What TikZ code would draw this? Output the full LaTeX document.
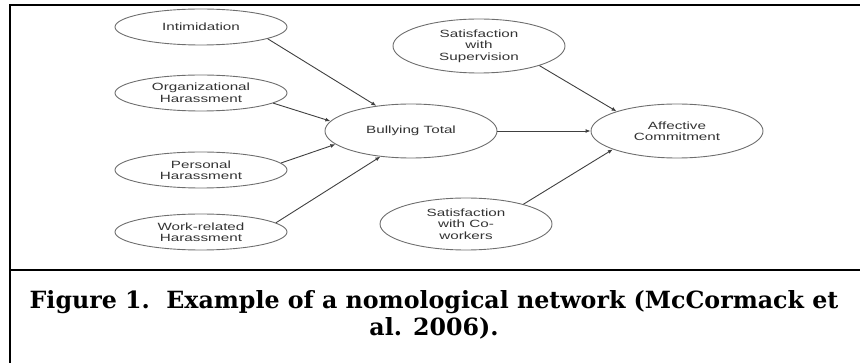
\documentclass[tikz,border=0pt]{standalone}
\usepackage{fontspec}
\usetikzlibrary{shapes.geometric,arrows.meta}
\newfontfamily\nodefont[FakeStretch=1.45]{Liberation Sans}
\newfontfamily\capfont{DejaVu Serif}
\definecolor{ellline}{HTML}{6E6E6E}
\definecolor{arrline}{HTML}{404040}
\definecolor{txtgray}{HTML}{333333}
\begin{document}
\begin{tikzpicture}[x=1pt,y=-1pt,
  construct/.style={ellipse,draw=ellline,line width=0.9pt,inner sep=0pt,
    minimum width=172pt,align=center,text=txtgray,
    font=\nodefont\fontsize{10.5pt}{11.5pt}\selectfont},
  smallell/.style={construct,minimum height=36pt},
  bigell/.style={construct,minimum height=54pt},
  link/.style={draw=arrline,line width=0.9pt,-{Latex[length=5pt,width=4pt]}},
  frame/.style={line width=2.4pt,black}]
\useasboundingbox (0,0) rectangle (860,363);
% frame
\coordinate (tl) at (10,5.3);
\coordinate (tr) at (860,5.3);
\coordinate (bl) at (10,363);
\coordinate (dl) at (10,270);
\coordinate (dr) at (860,270);
\draw[frame] (tr) -- (tl) -- (bl);
\draw[frame] (dl) -- (dr);
% nodes
\node[smallell] (intim) at (201,27) {Intimidation};
\node[smallell] (org) at (201,93) {Organizational\\Harassment};
\node[smallell] (pers) at (201,170) {Personal\\Harassment};
\node[smallell] (work) at (201,232) {Work-related\\Harassment};
\node[bigell] (bull) at (411,131) {Bullying Total};
\node[bigell] (sup) at (479,46) {Satisfaction\\with\\Supervision};
\node[bigell] (aff) at (677,131) {Affective\\Commitment};
\node[bigell,minimum height=52pt] (cow) at (466,224) {Satisfaction\\with Co-\\workers};
% links
\draw[link] (intim.-10) -- (bull.144);
\draw[link] (org.-8) -- (bull.173);
\draw[link] (pers.5) -- (bull.-170);
\draw[link] (work.7) -- (bull.-140);
\draw[link] (bull.0) -- (aff.180);
\draw[link] (sup.-18) -- (aff.162);
\draw[link] (cow.19) -- (aff.-164);
% caption
\node[font=\capfont\bfseries\fontsize{23.7pt}{27pt}\selectfont,align=center,inner sep=0pt,anchor=north]
  (cap) at (434,290) {Figure 1.\ \ Example of a nomological network (McCormack et\\al. 2006).};
\end{tikzpicture}
\end{document}
